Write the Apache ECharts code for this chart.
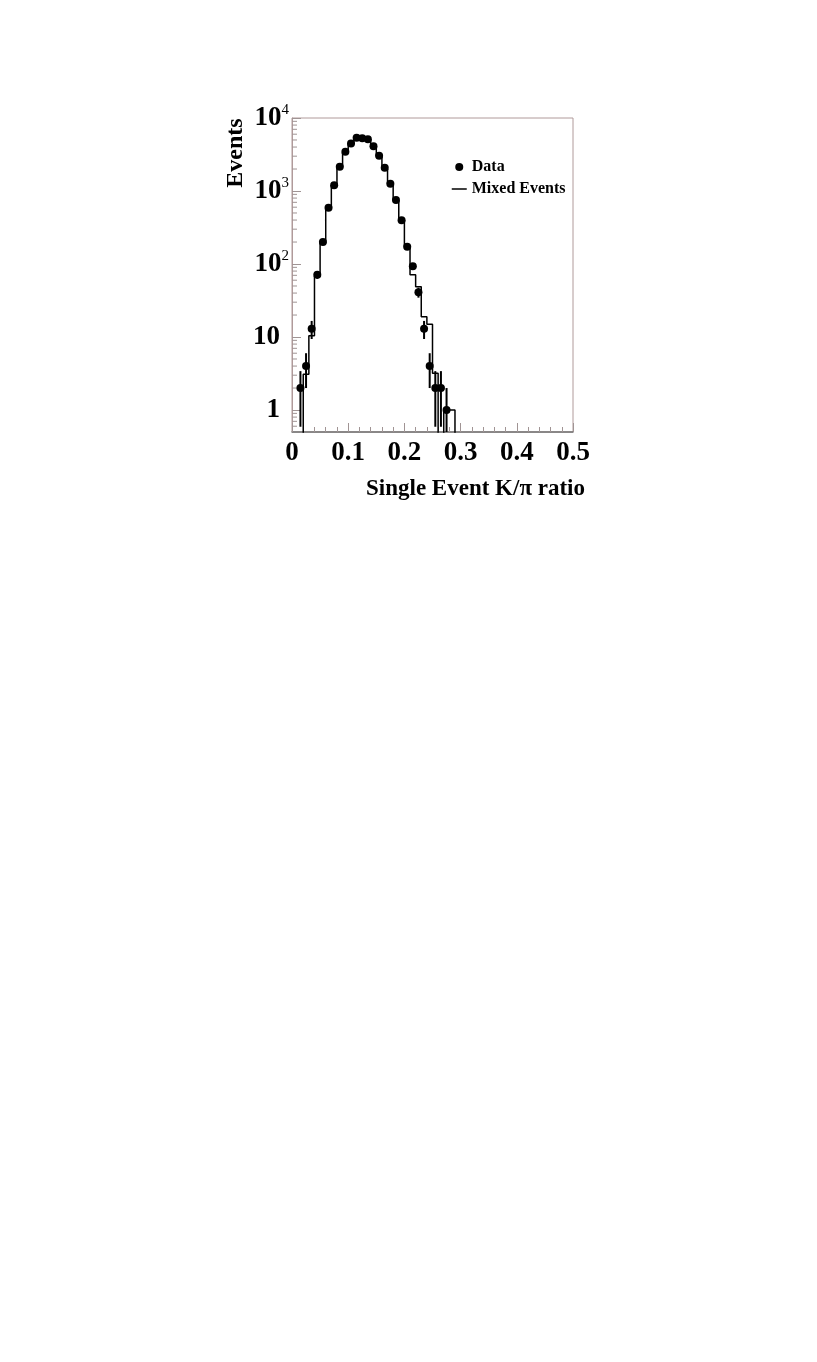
<!DOCTYPE html>
<html><head><meta charset="utf-8">
<script src="https://cdn.jsdelivr.net/npm/echarts@6/dist/echarts.min.js"></script>
<style>html,body{margin:0;padding:0;background:#fff}#c{width:817px;height:1362px}</style>
</head><body><div id="c"></div>
<script>
// bin lower edges (width 0.01)
const binLow = [0.00,0.01,0.02,0.03,0.04,0.05,0.06,0.07,0.08,0.09,
                0.10,0.11,0.12,0.13,0.14,0.15,0.16,0.17,0.18,0.19,
                0.20,0.21,0.22,0.23,0.24,0.25,0.26,0.27,0.28,0.29];
const binWidth = 0.01;
// Data counts per bin
const dataCounts = [0,2,4,13,71,200,590,1200,2150,3450,
                    4480,5350,5270,5130,4100,3040,2080,1260,755,398,
                    172,93,41,13,4,2,2,1,0,0];
// statistical errors per bin
const dataErr = [0,1.41,2,3.61,8.43,14.1,24.3,34.6,46.4,58.7,
                 66.9,73.1,72.6,71.6,64.0,55.1,45.6,35.5,27.5,19.9,
                 13.1,9.64,6.40,3.61,2,1.41,1.41,1,0,0];
// Mixed events histogram per bin
const mixedCounts = [0,0,3.1,10.4,68,194,590,1200,2100,3400,
                     4400,5200,5200,5000,4000,3000,2000,1250,740,400,
                     170,71,49,19,15,3.2,0,1,1,0];
// y axis minor tick values
const yMinorTicks = [0.6,0.7,0.8,0.9,2,3,4,5,6,7,8,9,20,30,40,50,60,70,80,90,
                     200,300,400,500,600,700,800,900,2000,3000,4000,5000,6000,7000,8000,9000];
const xTicks = ['0','0.1','0.2','0.3','0.4','0.5'];

const FONT = '"Liberation Serif","Times New Roman",serif';
const FLOOR = 0.001;
const frameColor = '#b09a9a';
const tickColor = '#a09494';

const histData = binLow.map((x, i) => [x, mixedCounts[i] > 0 ? mixedCounts[i] : FLOOR]);
histData.push([binLow[binLow.length - 1] + binWidth, FLOOR]);

const pts = [];
binLow.forEach((x, i) => { if (dataCounts[i] > 0) pts.push([x + binWidth / 2, dataCounts[i], dataErr[i]]); });

const chart = echarts.init(document.getElementById('c'));
chart.setOption({
  animation: false,
  backgroundColor: '#fff',
  grid: { left: 292, top: 118, right: 244, bottom: 930, show: true, borderColor: frameColor, borderWidth: 1, containLabel: false },
  xAxis: {
    type: 'value', min: 0, max: 0.5, interval: 0.1,
    axisLine: { show: true, onZero: false, lineStyle: { color: '#707070', width: 1.5 } },
    axisTick: { show: true, inside: true, length: 9, lineStyle: { color: tickColor } },
    minorTick: { show: true, splitNumber: 5, length: 5, lineStyle: { color: tickColor } },
    splitLine: { show: false },
    axisLabel: {
      margin: 8, color: '#000', fontFamily: FONT, fontWeight: 'bold', fontSize: 27,
      formatter: v => xTicks[Math.round(v * 10)]
    }
  },
  yAxis: {
    type: 'log', logBase: 10, min: 0.5, max: 10000,
    axisLine: { show: true, lineStyle: { color: frameColor, width: 1 } },
    axisTick: { show: true, inside: true, length: 9, lineStyle: { color: tickColor } },
    splitLine: { show: false },
    axisLabel: {
      margin: 3, color: '#000', showMinLabel: false,
      formatter: v => {
        const e = Math.round(Math.log10(v));
        if (e < 0 || Math.abs(v - Math.pow(10, e)) > 1e-6 * v) return '';
        if (e === 0) return '{n|1}{sp|}';
        if (e === 1) return '{n|10}{sp|}';
        return '{n|10}{s|' + e + '}';
      },
      rich: {
        n: { fontFamily: FONT, fontWeight: 'bold', fontSize: 27, color: '#000', lineHeight: 30 },
        s: { fontFamily: FONT, fontWeight: 'normal', fontSize: 15, color: '#000', verticalAlign: 'top', lineHeight: 30, padding: [0, 0, 12, 0] },
        sp: { width: 9, lineHeight: 30 }
      }
    }
  },
  legend: {
    orient: 'vertical', left: 451, top: 159, itemWidth: 15, itemHeight: 8, itemGap: 6, padding: 0,
    textStyle: { fontFamily: FONT, fontWeight: 'bold', fontSize: 16, color: '#000' },
    data: [
      { name: 'Data', icon: 'circle', itemStyle: { color: '#000', opacity: 1 } },
      { name: 'Mixed Events', itemStyle: { opacity: 0 }, lineStyle: { color: '#000', width: 1.5 } }
    ]
  },
  graphic: [
    { type: 'text', x: 236, y: 153, rotation: Math.PI / 2,
      style: { text: 'Events', fontFamily: FONT, fontWeight: 'bold', fontSize: 24, fill: '#000', textAlign: 'center', textVerticalAlign: 'middle' } },
    { type: 'text', x: 585, y: 489,
      style: { text: 'Single Event K/\u03c0 ratio', fontFamily: FONT, fontWeight: 'bold', fontSize: 23, fill: '#000', textAlign: 'right', textVerticalAlign: 'middle' } }
  ],
  series: [
    {
      name: 'Mixed Events', type: 'line', step: 'end', data: histData, showSymbol: false, symbol: 'none',
      clip: true, lineStyle: { color: '#000', width: 1.5 }, itemStyle: { color: '#000' }, z: 2
    },
    {
      name: 'errbars', type: 'custom', clip: true, silent: true, z: 3,
      data: pts,
      renderItem: (params, api) => {
        const x = api.value(0), y = api.value(1), e = api.value(2);
        const lo = Math.max(y - e, 0.01);
        const p1 = api.coord([x, lo]);
        const p2 = api.coord([x, y + e]);
        return { type: 'line', shape: { x1: p1[0], y1: p1[1], x2: p2[0], y2: p2[1] }, style: { stroke: '#000', lineWidth: 2 } };
      }
    },
    {
      name: 'Data', type: 'scatter', data: pts.map(p => [p[0], p[1]]), symbol: 'circle', symbolSize: 8,
      itemStyle: { color: '#000', opacity: 1 }, z: 4, clip: true
    },
    {
      name: 'yminor', type: 'custom', silent: true, z: 1,
      data: yMinorTicks.map(v => [0, v]),
      renderItem: (params, api) => {
        const p = api.coord([api.value(0), api.value(1)]);
        return { type: 'line', shape: { x1: p[0], y1: p[1], x2: p[0] + 5, y2: p[1] }, style: { stroke: tickColor, lineWidth: 1 } };
      }
    }
  ]
});
</script></body></html>
